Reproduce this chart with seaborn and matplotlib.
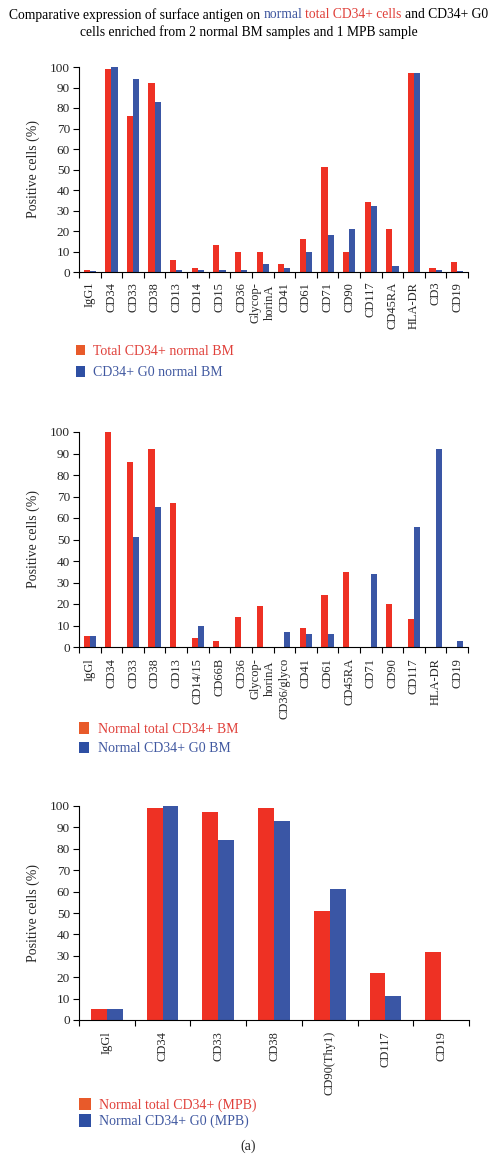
import matplotlib
matplotlib.use('Agg')
import matplotlib.pyplot as plt
import seaborn as sns
import pandas as pd
from matplotlib.patches import Patch
from matplotlib.ticker import FixedLocator

W, H, DPI = 497, 1156, 100

RED = '#EE3124'
BLUE = '#3A56A5'
LEG_RED = '#E85A2A'
LEG_BLUE = '#2E4FA3'
TXT_RED = '#E0403A'
TXT_BLUE = '#4058A0'

# ---------------- data ----------------
p1_labels = ['IgG1', 'CD34', 'CD33', 'CD38', 'CD13', 'CD14', 'CD15', 'CD36',
             'Glycop-\nhorinA', 'CD41', 'CD61', 'CD71', 'CD90', 'CD117',
             'CD45RA', 'HLA-DR', 'CD3', 'CD19']
p1_total = [1, 99, 76, 92, 6, 2, 13, 10, 10, 4, 16, 51, 10, 34, 21, 97, 2, 5]
p1_g0 = [0.5, 100, 94, 83, 1, 1, 1, 1, 4, 2, 10, 18, 21, 32, 3, 97, 1, 0.5]
p1_names = ['Total CD34+ normal BM', 'CD34+ G0 normal BM']

p2_labels = ['IgGl', 'CD34', 'CD33', 'CD38', 'CD13', 'CD14/15', 'CD66B', 'CD36',
             'Glycop-\nhorinA', 'CD36/glyco', 'CD41', 'CD61', 'CD45RA', 'CD71',
             'CD90', 'CD117', 'HLA-DR', 'CD19']
p2_total = [5, 100, 86, 92, 67, 4, 3, 14, 19, 0, 9, 24, 35, 0, 20, 13, 0, 0]
p2_g0 = [5, 0, 51, 65, 0, 10, 0, 0, 0, 7, 6, 6, 0, 34, 0, 56, 92, 3]
p2_names = ['Normal total CD34+ BM', 'Normal CD34+ G0 BM']

p3_labels = ['IgGl', 'CD34', 'CD33', 'CD38', 'CD90(Thy1)', 'CD117', 'CD19']
p3_total = [5, 99, 97, 99, 51, 22, 32]
p3_g0 = [5, 100, 84, 93, 61, 11, 0]
p3_names = ['Normal total CD34+ (MPB)', 'Normal CD34+ G0 (MPB)']

yticks = list(range(0, 101, 10))

# ---------------- style ----------------
sns.set_theme(style='white')
plt.rcParams['font.family'] = ['Liberation Serif', 'DejaVu Serif']
plt.rcParams['axes.linewidth'] = 0.8

fig = plt.figure(figsize=(W / DPI, H / DPI), dpi=DPI)
fig.patch.set_facecolor('white')


def px_axes(left, right, top, bottom):
    return fig.add_axes([left / W, 1 - bottom / H, (right - left) / W, (bottom - top) / H])


def panel(ax, labels, s1, s2, names, xpad):
    n = len(labels)
    df = pd.DataFrame({
        'marker': labels + labels,
        'value': s1 + s2,
        'series': [names[0]] * n + [names[1]] * n,
    })
    sns.barplot(data=df, x='marker', y='value', hue='series', order=labels,
                hue_order=names, palette=[RED, BLUE], width=0.57, gap=0,
                saturation=1, errorbar=None, linewidth=0, legend=False, ax=ax)
    ax.set_xlim(-0.5, n - 0.5)
    ax.set_ylim(0, 100)
    ax.set_yticks(yticks)
    ax.set_yticklabels([str(t) for t in yticks], fontsize=9.5)
    ax.set_xticks(range(n))
    ax.set_xticklabels(labels, rotation=90, fontsize=9, va='top', ha='center')
    ax.xaxis.set_minor_locator(FixedLocator([i - 0.5 for i in range(n + 1)]))
    ax.tick_params(axis='x', which='major', length=0, pad=xpad, bottom=True)
    ax.tick_params(axis='x', which='minor', length=4, width=0.8, color='black',
                   direction='out', bottom=True)
    ax.tick_params(axis='y', which='major', length=4, width=0.8, color='black',
                   direction='out', left=True, pad=2.5)
    for s in ['top', 'right']:
        ax.spines[s].set_visible(False)
    for s in ['left', 'bottom']:
        ax.spines[s].set_color('black')
        ax.spines[s].set_linewidth(0.8)
    ax.set_xlabel('')
    ax.set_ylabel('Positive cells (%)', fontsize=10)
    ax.yaxis.set_label_coords(-0.1, 0.5)
    ax.set_facecolor('white')
    ax.grid(False)


def legend(names, left, top, hh):
    handles = [Patch(facecolor=LEG_RED, edgecolor='none'),
               Patch(facecolor=LEG_BLUE, edgecolor='none')]
    fig.legend(handles, names, loc='upper left',
               bbox_to_anchor=(left / W, 1 - top / H), bbox_transform=fig.transFigure,
               frameon=False, fontsize=10, handlelength=hh[0], handleheight=hh[1],
               handletextpad=0.6, labelspacing=hh[2], borderpad=0, borderaxespad=0,
               labelcolor=[TXT_RED, TXT_BLUE])


ax1 = px_axes(79, 468, 67, 272)
panel(ax1, p1_labels, p1_total, p1_g0, p1_names, 7)
legend(p1_names, 76, 345, (0.65, 0.75, 0.6))

ax2 = px_axes(79, 468, 432, 647)
panel(ax2, p2_labels, p2_total, p2_g0, p2_names, 8)
legend(p2_names, 79, 722, (0.75, 0.9, 0.45))

ax3 = px_axes(79, 469, 806, 1020)
panel(ax3, p3_labels, p3_total, p3_g0, p3_names, 8)
legend(p3_names, 79, 1098, (0.85, 1.0, 0.15))

# ---------------- title with coloured words ----------------
renderer = fig.canvas.get_renderer()
TFS = 9.8
pieces = [('Comparative expression of surface antigen on', 'black'),
          ('normal', TXT_BLUE),
          ('total CD34+ cells', TXT_RED),
          ('and CD34+ G0', 'black')]


def text_w(s):
    t = fig.text(0, 0, s, fontsize=TFS)
    w = t.get_window_extent(renderer).width
    t.remove()
    return w


full = ' '.join(p for p, _ in pieces)
total = text_w(full)
ref_w = text_w('n')
x0 = (W - total) / 2
prefix = ''
for i, (p, c) in enumerate(pieces):
    off = 0 if i == 0 else text_w(prefix + ' n') - ref_w
    fig.text((x0 + off) / W, 1 - 15 / H, p, fontsize=TFS, color=c, ha='left', va='center')
    prefix = (prefix + ' ' + p) if prefix else p
fig.text(0.5, 1 - 32 / H, 'cells enriched from 2 normal BM samples and 1 MPB sample',
         fontsize=TFS, color='black', ha='center', va='center')

fig.text(0.5, 1 - 1146 / H, '(a)', fontsize=10, ha='center', va='center')

fig.savefig('out.png', dpi=DPI, facecolor='white')
